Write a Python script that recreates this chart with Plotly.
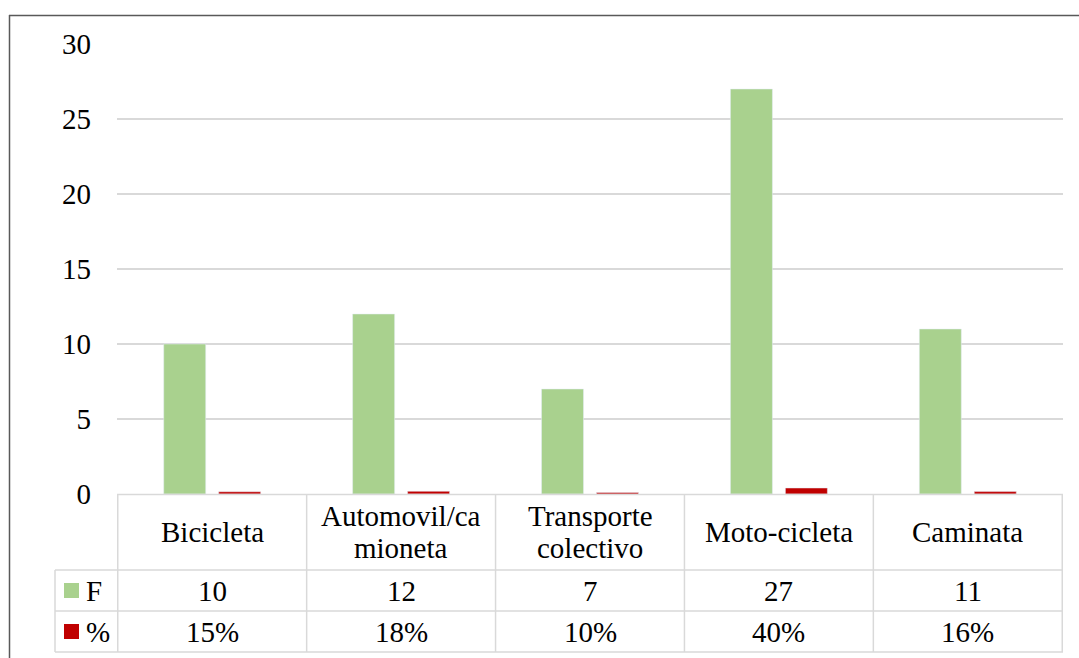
import plotly.graph_objects as go

# ---- data ----
categories = ["Bicicleta", "Automovil/camioneta", "Transporte colectivo", "Moto-cicleta", "Caminata"]
header_lines = [["Bicicleta"], ["Automovil/ca", "mioneta"], ["Transporte", "colectivo"], ["Moto-cicleta"], ["Caminata"]]
freq = [10, 12, 7, 27, 11]
pct = [0.15, 0.18, 0.10, 0.40, 0.16]
pct_labels = ["15%", "18%", "10%", "40%", "16%"]
series_names = ["F", "%"]
y_ticks = [0, 5, 10, 15, 20, 25, 30]

# ---- styles ----
W, H = 1079, 658
GREEN = "#a9d18e"
RED = "#c00000"
GRID = "#d9d9d9"
FONT = "Liberation Serif, Times New Roman, serif"
FS = 29


def px(x):
    return x / W


def py(y):
    return 1 - y / H


fig = go.Figure()
fig.add_trace(go.Bar(x=categories, y=freq, name=series_names[0], marker_color=GREEN))
fig.add_trace(go.Bar(x=categories, y=pct, name=series_names[1], marker_color=RED))

shapes = []
line = dict(color=GRID, width=1.5)
n = len(categories)
for i in range(n + 1):
    shapes.append(dict(type="line", xref="x", yref="paper", x0=i - 0.5, x1=i - 0.5,
                       y0=py(494), y1=py(652), line=line))
shapes.append(dict(type="line", xref="paper", yref="paper", x0=px(117), x1=px(1063),
                   y0=py(494.5), y1=py(494.5), line=line))
for yy in (570, 611, 652):
    shapes.append(dict(type="line", xref="paper", yref="paper", x0=px(55), x1=px(1063),
                       y0=py(yy), y1=py(yy), line=line))
shapes.append(dict(type="line", xref="paper", yref="paper", x0=px(55), x1=px(55),
                   y0=py(570), y1=py(652), line=line))
for (yc, col) in ((590.5, GREEN), (631.5, RED)):
    shapes.append(dict(type="rect", xref="paper", yref="paper", x0=px(64), x1=px(79),
                       y0=py(yc - 7.5), y1=py(yc + 7.5), fillcolor=col, line=dict(width=0)))
border = dict(color="#595959", width=1.5)
shapes.append(dict(type="line", xref="paper", yref="paper", x0=px(9.5), x1=px(9.5),
                   y0=py(15), y1=0, line=border))
shapes.append(dict(type="line", xref="paper", yref="paper", x0=px(9), x1=1,
                   y0=py(15.5), y1=py(15.5), line=border))

annotations = []
font = dict(family=FONT, size=FS, color="black")
for i, lines in enumerate(header_lines):
    ys = [532] if len(lines) == 1 else [516, 548]
    for t, yy in zip(lines, ys):
        annotations.append(dict(x=categories[i], xref="x", y=py(yy), yref="paper", text=t,
                                showarrow=False, font=font, xanchor="center", yanchor="middle"))
    annotations.append(dict(x=categories[i], xref="x", y=py(590.5), yref="paper", text=str(freq[i]),
                            showarrow=False, font=font, xanchor="center", yanchor="middle"))
    annotations.append(dict(x=categories[i], xref="x", y=py(631.5), yref="paper", text=pct_labels[i],
                            showarrow=False, font=font, xanchor="center", yanchor="middle"))
for name, yy in zip(series_names, (590.5, 631.5)):
    annotations.append(dict(x=px(84), xref="paper", y=py(yy), yref="paper", text=name,
                            showarrow=False, font=font, xanchor="left", yanchor="middle"))

fig.update_layout(
    width=W, height=H,
    margin=dict(l=0, r=0, t=0, b=0, autoexpand=False),
    paper_bgcolor="white", plot_bgcolor="white",
    barmode="group", bargap=0.418, bargroupgap=0.236,
    showlegend=False,
    font=font,
    xaxis=dict(domain=[px(117), px(1063)], showticklabels=False, showgrid=False,
               showline=False, zeroline=False, ticks="", automargin=False),
    yaxis=dict(domain=[py(494), py(44)], range=[0, 30], tickvals=y_ticks,
               showgrid=True, gridcolor=GRID, gridwidth=1.5, zeroline=False,
               showline=False, ticks="", ticklabelstandoff=25, automargin=False,
               tickfont=font),
    shapes=shapes,
    annotations=annotations,
)

fig.write_html(
    "out.html",
    config={"displayModeBar": False},
    post_script="document.body.style.margin='0px';document.body.style.overflow='hidden';"
                "document.documentElement.style.overflow='hidden';",
)
